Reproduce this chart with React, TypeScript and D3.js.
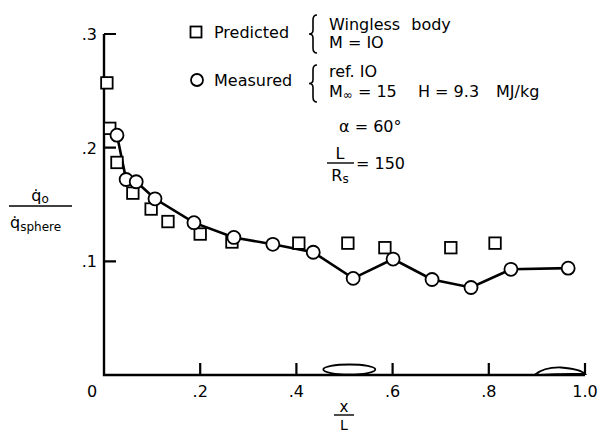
import React from "react";
import * as d3 from "d3";

// Predicted heating, wingless body, M = 10
const predictedX = [0.006, 0.012, 0.027, 0.06, 0.098, 0.133, 0.2, 0.266, 0.405, 0.507, 0.584, 0.721, 0.813];
const predictedY = [0.257, 0.217, 0.187, 0.16, 0.146, 0.135, 0.124, 0.117, 0.116, 0.116, 0.112, 0.112, 0.116];

// Measured heating, ref. 10
const measuredX = [0.027, 0.046, 0.067, 0.106, 0.187, 0.27, 0.351, 0.435, 0.518, 0.601, 0.682, 0.763, 0.846, 0.965];
const measuredY = [0.211, 0.172, 0.17, 0.155, 0.134, 0.121, 0.115, 0.108, 0.085, 0.102, 0.084, 0.077, 0.093, 0.094];

const xTicks = [0, 0.2, 0.4, 0.6, 0.8, 1.0];
const xTickLabels = ["0", ".2", ".4", ".6", ".8", "1.0"];
const yTicks = [0.1, 0.2, 0.3];
const yTickLabels = [".1", ".2", ".3"];

const W = 599;
const H = 434;
const FONT = "'DejaVu Sans', sans-serif";

export default function App() {
  const x = d3.scaleLinear().domain([0, 1]).range([104, 585]);
  const y = d3.scaleLinear().domain([0, 0.3]).range([375, 34]);

  const measured = measuredX.map((v, i) => [v, measuredY[i]] as [number, number]);
  const predicted = predictedX.map((v, i) => [v, predictedY[i]] as [number, number]);
  const linePath = d3
    .line<[number, number]>()
    .x((d) => x(d[0]))
    .y((d) => y(d[1]));

  const sq = 11.5;
  const r = 6.5;
  const y0 = y(0);
  const x0 = x(0);
  const tickLen = 12;

  // inward tick marks on both axes as one path
  const tickPath =
    xTicks
      .slice(1)
      .map((t) => `M${x(t)},${y0}V${y0 - tickLen}`)
      .join("") + yTicks.map((t) => `M${x0},${y(t)}H${x0 + tickLen}`).join("");

  // curly brace from top to bottom, point facing left
  const brace = (bx: number, top: number, bot: number) => {
    const mid = (top + bot) / 2;
    const w = 4;
    return `M${bx + w},${top} Q${bx},${top} ${bx},${top + 5} L${bx},${mid - 4} Q${bx},${mid} ${bx - w},${mid} Q${bx},${mid} ${bx},${mid + 4} L${bx},${bot - 5} Q${bx},${bot} ${bx + w},${bot}`;
  };

  return (
    <svg width={W} height={H} style={{ position: "absolute", left: 0, top: 0, background: "#fff" }} fontFamily={FONT}>
      <rect x={0} y={0} width={W} height={H} fill="#fff" />

      {/* axes */}
      <path d={`M${x0},${y(0.3)}V${y0}H${x(1)}`} fill="none" stroke="#000" strokeWidth={2.4} />
      <path d={tickPath} fill="none" stroke="#000" strokeWidth={2.2} />
      {xTicks.map((t, i) => (
        <text key={"xl" + t} x={x(t) + (i === 0 ? -12 : 0)} y={y0 + 22} fontSize={16} textAnchor="middle">
          {xTickLabels[i]}
        </text>
      ))}
      {yTicks.map((t, i) => (
        <text key={"yl" + t} x={x0 - 7} y={y(t) + 6} fontSize={16} textAnchor="end">
          {yTickLabels[i]}
        </text>
      ))}

      {/* body cross sections on the axis */}
      <ellipse cx={x(0.51)} cy={y0 - 5.5} rx={26} ry={5} fill="#fff" stroke="#000" strokeWidth={1.8} />
      <path
        d={`M${x(0.895)},${y0} Q${x(0.915)},${y0 - 8} ${x(0.95)},${y0 - 7.5} Q${x(0.99)},${y0 - 6} ${x(1)},${y0 - 1} Q${x(0.95)},${y0 - 1.5} ${x(0.895)},${y0}`}
        fill="#fff"
        stroke="#000"
        strokeWidth={1.8}
      />

      {/* measured line */}
      <path d={linePath(measured) ?? ""} fill="none" stroke="#000" strokeWidth={2.6} />

      {predicted.map((d, i) => (
        <rect key={"p" + i} x={x(d[0]) - sq / 2} y={y(d[1]) - sq / 2} width={sq} height={sq} fill="#fff" stroke="#000" strokeWidth={1.8} />
      ))}
      {measured.map((d, i) => (
        <circle key={"m" + i} cx={x(d[0])} cy={y(d[1])} r={r} fill="#fff" stroke="#000" strokeWidth={1.8} />
      ))}

      {/* legend */}
      <rect x={196 - 5.5} y={32 - 5.5} width={11} height={11} fill="#fff" stroke="#000" strokeWidth={1.8} />
      <text x={214} y={38} fontSize={16}>Predicted</text>
      <circle cx={197} cy={80} r={6} fill="#fff" stroke="#000" strokeWidth={1.8} />
      <text x={214} y={86} fontSize={16}>Measured</text>

      <path d={brace(313, 15, 53)} fill="none" stroke="#000" strokeWidth={1.6} />
      <path d={brace(313, 65, 102)} fill="none" stroke="#000" strokeWidth={1.6} />
      <text x={329} y={30} fontSize={16} wordSpacing={6}>Wingless body</text>
      <text x={329} y={48} fontSize={16}>M = IO</text>
      <text x={329} y={77} fontSize={16}>ref. IO</text>
      <text x={329} y={97} fontSize={16}>
        M<tspan fontSize={12} dy={2}>∞</tspan>
        <tspan dy={-2}> = 15</tspan>
      </text>
      <text x={418} y={97} fontSize={16}>H = 9.3</text>
      <text x={496} y={97} fontSize={16}>MJ/kg</text>

      <text x={339} y={132} fontSize={16}>α = 60°</text>
      <text x={340} y={159} fontSize={16} textAnchor="middle">L</text>
      <line x1={327} x2={354} y1={163} y2={163} stroke="#000" strokeWidth={1.4} />
      <text x={340} y={181} fontSize={16} textAnchor="middle">
        R<tspan fontSize={12} dy={2}>s</tspan>
      </text>
      <text x={356} y={169} fontSize={16}>= 150</text>

      {/* y-axis label */}
      <text x={40} y={201} fontSize={16} textAnchor="middle">
        q̇<tspan fontSize={12} dy={2}>o</tspan>
      </text>
      <line x1={9} x2={72} y1={206} y2={206} stroke="#000" strokeWidth={1.4} />
      <text x={10} y={228} fontSize={16}>
        q̇<tspan fontSize={12} dy={3}>sphere</tspan>
      </text>

      {/* x-axis label */}
      <text x={344} y={412} fontSize={15} textAnchor="middle">x</text>
      <line x1={334} x2={354} y1={415} y2={415} stroke="#000" strokeWidth={1.4} />
      <text x={344} y={430} fontSize={14} textAnchor="middle">L</text>
    </svg>
  );
}
